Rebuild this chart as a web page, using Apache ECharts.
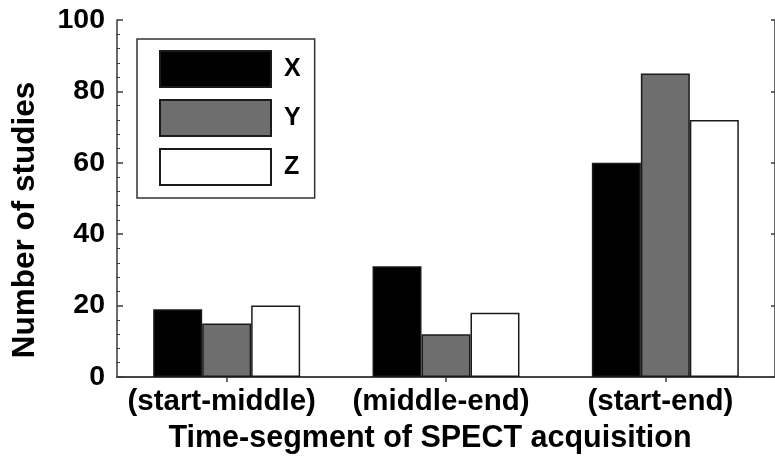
<!DOCTYPE html>
<html>
<head>
<meta charset="utf-8">
<script src="https://cdn.jsdelivr.net/npm/echarts@6/dist/echarts.min.js"></script>
<style>
  html, body { margin: 0; padding: 0; background: #fff; }
  #chart { width: 775px; height: 462px; }
</style>
</head>
<body>
<div id="chart"></div>
<script>
// Study counts per acquisition segment
const categories = ['(start-middle)', '(middle-end)', '(start-end)'];
const seriesNames = ['X', 'Y', 'Z'];
const valuesX = [19, 31, 60];
const valuesY = [15, 12, 85];
const valuesZ = [20, 18, 72];
const yTicks = [0, 20, 40, 60, 80, 100];

const FONT = '"Liberation Sans", Arial, Helvetica, sans-serif';
const AXIS_COLOR = '#3a3a3a';
const EDGE = '#1a1a1a';
const TEXT = '#000';

const chart = echarts.init(document.getElementById('chart'), null, { renderer: 'canvas' });

function barSeries(name, data, fill) {
  return {
    name: name,
    type: 'bar',
    data: data,
    barGap: '0%',
    barCategoryGap: '33%',
    itemStyle: { color: fill, borderColor: EDGE, borderWidth: 1.5 },
    emphasis: { disabled: true }
  };
}

chart.setOption({
  animation: false,
  backgroundColor: '#ffffff',
  grid: { left: 117, top: 20, right: -3, bottom: 85, containLabel: false },
  legend: {
    orient: 'vertical',
    left: 137,
    top: 39,
    data: seriesNames,
    icon: 'rect',
    itemWidth: 111,
    itemHeight: 36,
    itemGap: 11,
    padding: [11, 14, 12, 22],
    borderColor: '#333',
    borderWidth: 1.5,
    selectedMode: false,
    textStyle: { fontFamily: FONT, fontWeight: 'bold', fontSize: 25, color: TEXT, padding: [0, 0, 0, 8] }
  },
  xAxis: [
    {
      type: 'category',
      data: categories,
      position: 'bottom',
      axisLine: { lineStyle: { color: AXIS_COLOR, width: 1.5 } },
      axisTick: { show: false },
      axisLabel: { interval: 0, hideOverlap: false, fontFamily: FONT, fontWeight: 'bold', fontSize: 29.5, color: TEXT, margin: 10, padding: [0, 10, 0, 0] },
      name: 'Time-segment of SPECT acquisition',
      nameLocation: 'middle',
      nameGap: 46,
      nameTextStyle: { fontFamily: FONT, fontWeight: 'bold', fontSize: 30.5, color: TEXT, padding: [0, 32, 0, 0] }
    },
    {
      type: 'category',
      data: categories,
      position: 'top',
      axisLine: { lineStyle: { color: AXIS_COLOR, width: 1.5 } },
      axisTick: { show: true, inside: true, length: 5, alignWithLabel: true, lineStyle: { color: AXIS_COLOR, width: 1.5 } },
      axisLabel: { show: false }
    }
  ],
  yAxis: [
    {
      type: 'value',
      min: yTicks[0],
      max: yTicks[yTicks.length - 1],
      interval: 20,
      position: 'left',
      axisLine: { show: true, lineStyle: { color: AXIS_COLOR, width: 1.5 } },
      axisTick: { show: true, inside: true, length: 6, lineStyle: { color: AXIS_COLOR, width: 1.5 } },
      minorTick: { show: true, splitNumber: 5, length: 3, lineStyle: { color: AXIS_COLOR, width: 1 } },
      splitLine: { show: false },
      axisLabel: { fontFamily: FONT, fontWeight: 'bold', fontSize: 28.5, color: TEXT, margin: 12 },
      name: 'Number of studies',
      nameLocation: 'middle',
      nameGap: 76,
      nameTextStyle: { fontFamily: FONT, fontWeight: 'bold', fontSize: 31.5, color: TEXT, padding: [0, 43, 0, 0] }
    },
    {
      type: 'value',
      min: yTicks[0],
      max: yTicks[yTicks.length - 1],
      interval: 20,
      position: 'right',
      axisLine: { show: true, lineStyle: { color: AXIS_COLOR, width: 1.5 } },
      axisTick: { show: true, inside: true, length: 4, lineStyle: { color: AXIS_COLOR, width: 1.5 } },
      splitLine: { show: false },
      axisLabel: { show: false }
    }
  ],
  series: [
    barSeries(seriesNames[0], valuesX, '#000000'),
    barSeries(seriesNames[1], valuesY, '#6e6e6e'),
    barSeries(seriesNames[2], valuesZ, '#ffffff')
  ]
});
</script>
</body>
</html>
